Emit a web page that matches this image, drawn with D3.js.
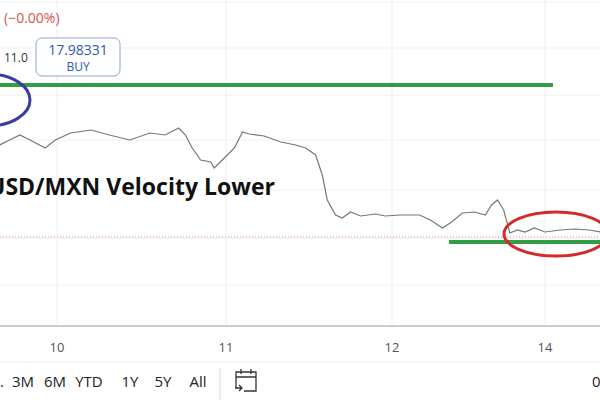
<!DOCTYPE html>
<html><head><meta charset="utf-8">
<script src="https://cdn.jsdelivr.net/npm/d3@7"></script>
<style>body{margin:0;background:#fff}text{font-family:"Open Sans",sans-serif}</style>
</head><body><svg id="c" width="600" height="400"></svg>
<script>
// session index (13 = the "14" session, weekend skipped)
var times = [9.66,9.72,9.78,9.84,9.93,9.99,10.08,10.20,10.31,10.43,10.55,10.64,10.72,10.76,10.80,10.85,10.91,10.93,10.99,11.05,11.10,11.14,11.23,11.33,11.42,11.48,11.54,11.58,11.61,11.66,11.70,11.75,11.81,11.90,11.96,12.05,12.18,12.25,12.33,12.39,12.46,12.54,12.61,12.65,12.69,12.73,12.77,12.82,12.87,12.93,13.0,13.10,13.19,13.29,13.36];
var prices = [18.16,18.17,18.18,18.17,18.154,18.17,18.184,18.19,18.18,18.17,18.184,18.18,18.194,18.18,18.154,18.13,18.126,18.114,18.134,18.154,18.186,18.182,18.178,18.166,18.16,18.154,18.14,18.10,18.05,18.02,18.014,18.026,18.018,18.022,18.018,18.02,18.02,18.01,17.994,18.006,18.024,18.026,18.02,18.04,18.05,18.03,17.984,17.99,17.986,17.994,17.986,17.99,17.992,17.99,17.986];
var tickVals = [10,11,12,13];
var tickLabels = ["10","11","12","14"];
var ranges = ["3M","6M","YTD","1Y","5Y","All"];
var upperLevel = 18.28, lowerLevel = 17.966, lastPrice = 17.976;

var svg = d3.select("#c");
var x = d3.scaleLinear().domain(tickVals).range([57,226,392,545]);
var y = d3.scaleLinear().domain([17.95,18.20]).range([250,125]);

// grid
[2,48,95,140,190,238,285].forEach(function(g){
  svg.append("line").attr("x1",0).attr("x2",600).attr("y1",g).attr("y2",g).attr("stroke","#f0f0f0");
});
tickVals.forEach(function(t){
  svg.append("line").attr("x1",x(t)).attr("x2",x(t)).attr("y1",0).attr("y2",325).attr("stroke","#eeeeee");
});
svg.append("line").attr("x1",0).attr("x2",600).attr("y1",326).attr("y2",326).attr("stroke","#bbb").attr("stroke-width",1.5);
svg.append("line").attr("x1",0).attr("x2",600).attr("y1",362).attr("y2",362).attr("stroke","#eee");
svg.selectAll(".tl").data(tickVals).enter().append("text")
  .attr("x",function(d){return x(d);}).attr("y",352).attr("text-anchor","middle")
  .attr("font-size",13).attr("fill","#555").text(function(d,i){return tickLabels[i];});

// last price dotted line
svg.append("line").attr("x1",0).attr("x2",600).attr("y1",y(lastPrice)).attr("y2",y(lastPrice))
  .attr("stroke","#e08a8a").attr("stroke-dasharray","1,2");

// price line
var data = times.map(function(t,i){return {t:t,p:prices[i]};});
svg.append("path").datum(data).attr("fill","none").attr("stroke","#6e7d6e").attr("stroke-width",1.2)
  .attr("d",d3.line().x(function(d){return x(d.t);}).y(function(d){return y(d.p);}));

// annotation levels
svg.append("line").attr("x1",0).attr("x2",553).attr("y1",y(upperLevel)).attr("y2",y(upperLevel))
  .attr("stroke","#2f9e44").attr("stroke-width",4);
svg.append("line").attr("x1",449).attr("x2",600).attr("y1",y(lowerLevel)).attr("y2",y(lowerLevel))
  .attr("stroke","#2f9e44").attr("stroke-width",4);
svg.append("ellipse").attr("cx",-12).attr("cy",100).attr("rx",42).attr("ry",26)
  .attr("fill","none").attr("stroke","#3b3ba6").attr("stroke-width",3);
svg.append("ellipse").attr("cx",556).attr("cy",234).attr("rx",52).attr("ry",22)
  .attr("fill","none").attr("stroke","#d42a2a").attr("stroke-width",3);

svg.append("text").attr("x",-12).attr("y",195).attr("font-size",23).attr("font-weight","bold")
  .attr("fill","#111").text("USD/MXN Velocity Lower");

// header bits
svg.append("text").attr("x",4).attr("y",23).attr("font-size",14).attr("fill","#d9534f").text("(\u22120.00%)");
svg.append("text").attr("x",4).attr("y",62).attr("font-size",12).attr("fill","#333").text("11.0");
svg.append("rect").attr("x",36).attr("y",38).attr("width",84).attr("height",38).attr("rx",6)
  .attr("fill","#fff").attr("stroke","#8aa6c8");
svg.append("text").attr("x",78).attr("y",55).attr("text-anchor","middle").attr("font-size",14).attr("fill","#2a5db0").text("17.98331");
svg.append("text").attr("x",78).attr("y",71).attr("text-anchor","middle").attr("font-size",12).attr("fill","#2a5db0").text("BUY");

// bottom bar
var bx = [23,55,89,130,163,198];
ranges.forEach(function(r,i){
  svg.append("text").attr("x",bx[i]).attr("y",387).attr("text-anchor","middle")
    .attr("font-size",15).attr("fill","#222").text(r);
});
svg.append("text").attr("x",0).attr("y",387).attr("font-size",15).attr("fill","#222").text(".");
svg.append("line").attr("x1",220).attr("x2",220).attr("y1",368).attr("y2",400).attr("stroke","#ddd");
var cal = svg.append("g").attr("fill","none").attr("stroke","#333").attr("stroke-width",1.3);
cal.append("path").attr("d","M236,388 V372 H256 V391 H244 M236,377 H256 M241,369 V374 M251,369 V374 M235,388 H242 M239,385 L242,388 L239,391");
svg.append("text").attr("x",592).attr("y",387).attr("font-size",15).attr("fill","#222").text("0");
</script></body></html>
